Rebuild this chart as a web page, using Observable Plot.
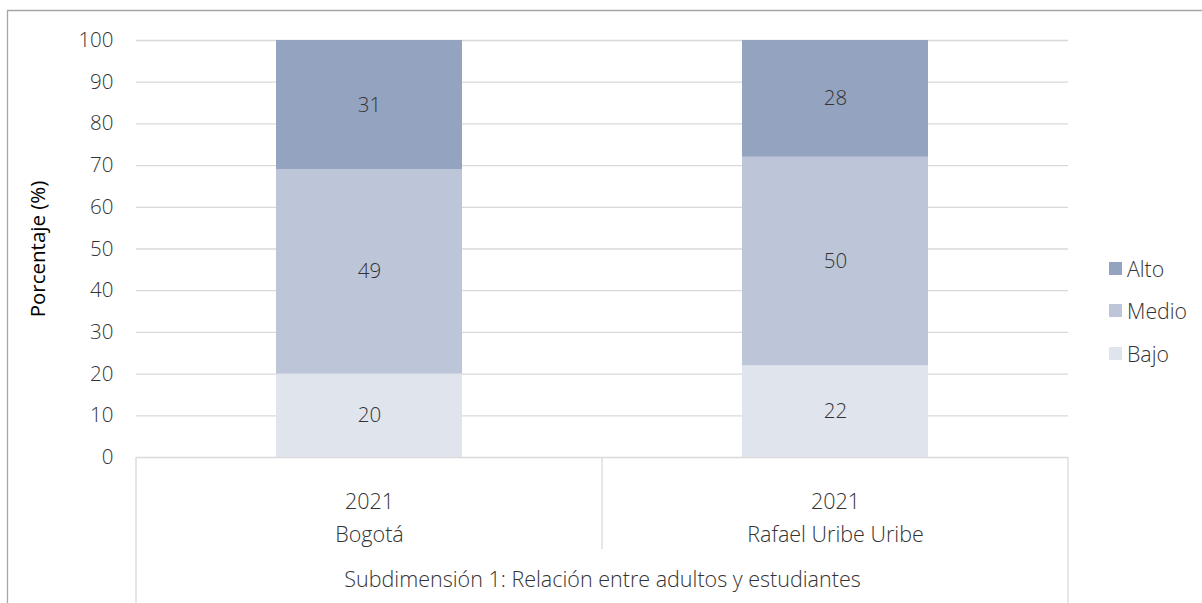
<!DOCTYPE html>
<html>
<head>
<meta charset="utf-8">
<script src="https://cdn.jsdelivr.net/npm/d3@7"></script>
<script src="https://cdn.jsdelivr.net/npm/@observablehq/plot@0.6"></script>
<style>
  html, body { margin: 0; padding: 0; background: #fff; }
  #wrap { position: relative; width: 1202px; height: 603px; overflow: hidden; }
  #legend { position: absolute; left: 1109px; top: 247px; font-family: "Open Sans", sans-serif; font-size: 21.3px; font-weight: 300; color: #333; }
  .item { display: flex; align-items: center; height: 42.5px; }
  .sw { width: 13px; height: 13px; margin-right: 5px; }
</style>
</head>
<body>
<div id="wrap"></div>
<script>
const categories = ["Bogotá", "Rafael Uribe Uribe"];
const yearLabels = ["2021", "2021"];
const levels = ["Bajo", "Medio", "Alto"];
const bajo = [20, 22];
const medio = [49, 50];
const alto = [31, 28];
const colors = ["#dfe4ed", "#bcc6d8", "#94a3bf"];
const yTicks = [0, 10, 20, 30, 40, 50, 60, 70, 80, 90, 100];
const groupTitle = "Subdimensión 1: Relación entre adultos y estudiantes";
const yLabel = "Porcentaje (%)";

const series = [bajo, medio, alto];
const data = [];
categories.forEach((c, i) => {
  levels.forEach((l, j) => data.push({cat: c, nivel: l, value: series[j][i]}));
});

const frameLines = (index, scales, values, dims) => {
  const g = d3.create("svg:g");
  const left = dims.marginLeft, right = dims.width - dims.marginRight;
  const base = dims.height - dims.marginBottom;
  const mid = (left + right) / 2;
  const lines = [[left, base, left, dims.height], [right, base, right, dims.height], [mid, base, mid, base + 92]];
  g.selectAll("line").data(lines).join("line")
    .attr("x1", d => d[0]).attr("y1", d => d[1]).attr("x2", d => d[2]).attr("y2", d => d[3])
    .attr("stroke", "#d9d9d9").attr("stroke-width", 1.3);
  // outer chart border
  g.append("line").attr("x1", 7).attr("x2", dims.width).attr("y1", 10.5).attr("y2", 10.5).attr("stroke", "#a6a6a6").attr("stroke-width", 1.3);
  g.append("line").attr("x1", 7.5).attr("x2", 7.5).attr("y1", 10).attr("y2", dims.height).attr("stroke", "#a6a6a6").attr("stroke-width", 1.3);
  return g.node();
};

const FS = 20.5;
const FSX = 21.5;
const txt = "#333";

const chart = Plot.plot({
  width: 1202,
  height: 603,
  marginTop: 40,
  marginBottom: 146,
  marginLeft: 136,
  marginRight: 134,
  style: {fontFamily: "'Open Sans', sans-serif", fontSize: "20px", fontWeight: 300, color: txt, background: "#fff"},
  x: {domain: categories, paddingInner: 0.6, paddingOuter: 0.3, axis: null},
  y: {domain: [0, 100]},
  color: {domain: levels, range: colors},
  marks: [
    Plot.ruleY(yTicks, {stroke: "#d9d9d9", strokeWidth: 1.3}),
    frameLines,
    Plot.barY(data, {x: "cat", y: "value", fill: "nivel", order: levels}),
    Plot.text(data, Plot.stackY({x: "cat", y: "value", z: "nivel", order: levels, text: d => String(d.value), fill: txt, fontSize: FS})),
    Plot.axisY({ticks: yTicks, tickSize: 0, tickPadding: 23, fontSize: FS, label: null, fill: txt}),
    Plot.text([yLabel], {frameAnchor: "left", textAnchor: "middle", dx: -98, rotate: -90, fontSize: FS, fontWeight: 400, fill: "#000"}),
    Plot.text(categories, {x: d => d, text: (d, i) => yearLabels[i], frameAnchor: "bottom", dy: 51, fontSize: FSX, fill: txt}),
    Plot.text(categories, {x: d => d, frameAnchor: "bottom", dy: 84, fontSize: FSX, fill: txt}),
    Plot.text([groupTitle], {frameAnchor: "bottom", dy: 129, fontSize: FSX, fill: txt})
  ]
});

const wrap = document.getElementById("wrap");
wrap.appendChild(chart);

const legend = document.createElement("div");
legend.id = "legend";
[...levels].reverse().forEach(l => {
  const it = document.createElement("div");
  it.className = "item";
  const sw = document.createElement("div");
  sw.className = "sw";
  sw.style.background = colors[levels.indexOf(l)];
  const t = document.createElement("span");
  t.textContent = l;
  it.appendChild(sw); it.appendChild(t);
  legend.appendChild(it);
});
wrap.appendChild(legend);
</script>
</body>
</html>
